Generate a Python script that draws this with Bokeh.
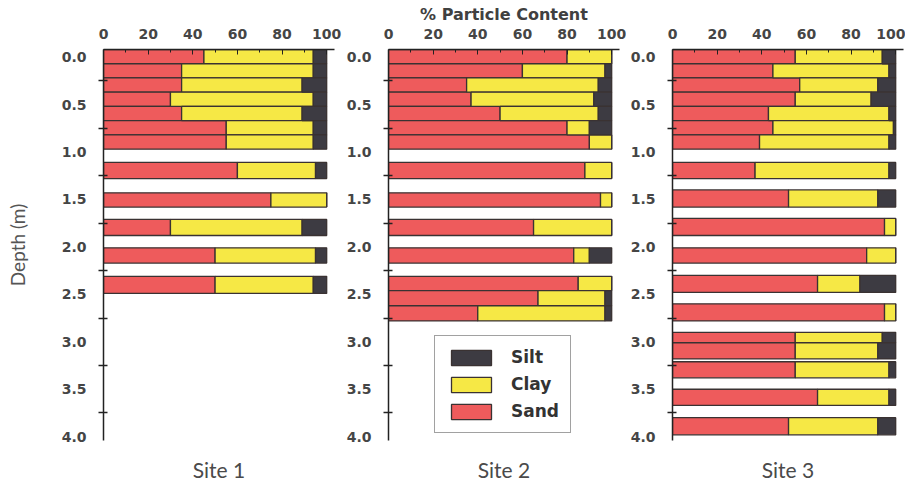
import numpy as np
from bokeh.plotting import figure
from bokeh.models import (Range1d, FixedTicker, LinearAxis, Legend, LegendItem,
                          PrintfTickFormatter)
from bokeh.layouts import row
from bokeh.embed import file_html
from bokeh.resources import INLINE

# ---------------- data ----------------
components = ["Sand", "Clay", "Silt"]
pct_ticks = [0, 20, 40, 60, 80, 100]
pct_minor = [10, 30, 50, 70, 90]
depth_ticks = [0.0, 0.5, 1.0, 1.5, 2.0, 2.5, 3.0, 3.5, 4.0]
depth_minor = [0.25, 0.75, 1.25, 1.75, 2.25, 2.75, 3.25, 3.75]
site_names = ["Site 1", "Site 2", "Site 3"]
x_title = "% Particle Content"
y_title = "Depth (m)"

# sample depth intervals (m)
site1_top = [-0.08, 0.07, 0.22, 0.37, 0.52, 0.67, 0.82, 1.11, 1.43, 1.71, 2.01, 2.31]
site1_bottom = [0.07, 0.22, 0.37, 0.52, 0.67, 0.82, 0.97, 1.28, 1.58, 1.88, 2.17, 2.49]
site1_sand = [45, 35, 35, 30, 35, 55, 55, 60, 75, 30, 50, 50]
site1_clay = [49, 59, 54, 64, 54, 39, 39, 35, 25, 59, 45, 44]
site1_silt = [6, 6, 11, 6, 11, 6, 6, 5, 0, 11, 5, 6]

site2_top = [-0.08, 0.07, 0.22, 0.37, 0.52, 0.67, 0.82, 1.11, 1.43, 1.71, 2.01, 2.31, 2.46, 2.62]
site2_bottom = [0.07, 0.22, 0.37, 0.52, 0.67, 0.82, 0.97, 1.28, 1.58, 1.88, 2.17, 2.46, 2.62, 2.78]
site2_sand = [80, 60, 35, 37, 50, 80, 90, 88, 95, 65, 83, 85, 67, 40]
site2_clay = [20, 37, 59, 55, 44, 10, 10, 12, 5, 35, 7, 15, 30, 57]
site2_silt = [0, 3, 6, 8, 6, 10, 0, 0, 0, 0, 10, 0, 3, 3]

site3_top = [-0.08, 0.07, 0.22, 0.37, 0.52, 0.67, 0.82, 1.11, 1.40, 1.70, 2.01, 2.30,
             2.60, 2.90, 3.01, 3.21, 3.50, 3.80]
site3_bottom = [0.07, 0.22, 0.37, 0.52, 0.67, 0.82, 0.97, 1.28, 1.58, 1.88, 2.17, 2.48,
                2.78, 3.01, 3.18, 3.38, 3.67, 3.98]
site3_sand = [55, 45, 57, 55, 43, 45, 39, 37, 52, 95, 87, 65, 95, 55, 55, 55, 65, 52]
site3_clay = [39, 52, 35, 34, 54, 54, 58, 60, 40, 5, 13, 19, 5, 39, 37, 42, 32, 40]
site3_silt = [6, 3, 8, 11, 3, 1, 3, 3, 8, 0, 0, 16, 0, 6, 8, 3, 3, 8]

# ---------------- style ----------------
SAND = "#ee5b5c"
CLAY = "#f6e845"
SILT = "#3d3b42"
EDGE = "#3a3232"
TICK_FONT = "DejaVu Sans"
TICK_COLOR = "#454545"
SITE_FONT = "Lato"

H = 487


def make_panel(name, tops, bottoms, sand, clay, silt, width, bl, br,
               depth_label=False, top_label=" "):
    p = figure(width=width, height=H, x_range=Range1d(0, 103.5),
               y_range=Range1d(4.04, -0.08), x_axis_location="above",
               output_backend="svg", toolbar_location=None,
               min_border_left=bl, min_border_right=br,
               min_border_top=49, min_border_bottom=47)
    p.outline_line_color = None
    p.grid.visible = False
    p.background_fill_color = "white"

    sand = np.array(sand, float)
    clay = np.array(clay, float)
    silt = np.array(silt, float)
    zeros = np.zeros_like(sand)
    r_sand = p.quad(left=zeros, right=sand, top=tops, bottom=bottoms,
                    fill_color=SAND, line_color=EDGE, line_width=1.3)
    r_clay = p.quad(left=sand, right=sand + clay, top=tops, bottom=bottoms,
                    fill_color=CLAY, line_color=EDGE, line_width=1.3)
    r_silt = p.quad(left=sand + clay, right=sand + clay + silt, top=tops, bottom=bottoms,
                    fill_color=SILT, line_color=EDGE, line_width=1.3)

    # top axis (percent)
    xa = p.xaxis[0]
    xa.ticker = FixedTicker(ticks=pct_ticks, minor_ticks=pct_minor)
    xa.major_tick_in = 5
    xa.major_tick_out = 0
    xa.minor_tick_in = 3
    xa.minor_tick_out = 0
    xa.axis_line_color = "#222222"
    xa.axis_line_width = 1.5
    xa.major_tick_line_color = "#222222"
    xa.minor_tick_line_color = "#222222"
    xa.major_label_standoff = 11
    xa.major_label_text_font = TICK_FONT
    xa.major_label_text_font_size = "14px"
    xa.major_label_text_font_style = "bold"
    xa.major_label_text_color = TICK_COLOR
    xa.axis_label = top_label
    xa.axis_label_standoff = 2
    xa.axis_label_text_font = TICK_FONT
    xa.axis_label_text_font_size = "16px"
    xa.axis_label_text_font_style = "bold"
    xa.axis_label_text_color = "#404040"

    # left axis (depth)
    ya = p.yaxis[0]
    ya.ticker = FixedTicker(ticks=depth_ticks, minor_ticks=depth_minor)
    ya.formatter = PrintfTickFormatter(format="%.1f")
    ya.major_tick_in = 0
    ya.major_tick_out = 0
    ya.minor_tick_in = 4
    ya.minor_tick_out = 5
    ya.minor_tick_line_width = 1.3
    ya.axis_line_color = "#222222"
    ya.axis_line_width = 1.5
    ya.minor_tick_line_color = "#222222"
    ya.major_label_standoff = 12
    ya.major_label_text_font = TICK_FONT
    ya.major_label_text_font_size = "14px"
    ya.major_label_text_font_style = "bold"
    ya.major_label_text_color = TICK_COLOR
    if depth_label:
        ya.axis_label = y_title
        ya.axis_label_text_font = SITE_FONT
        ya.axis_label_text_font_size = "19px"
        ya.axis_label_text_font_style = "normal"
        ya.axis_label_text_color = "#555555"
        ya.axis_label_standoff = 30

    # bottom axis only carrying the site name
    ba = LinearAxis(ticker=FixedTicker(ticks=[]), axis_label=name,
                    axis_line_color=None, major_tick_line_color=None,
                    minor_tick_line_color=None, major_label_text_font_size="0px",
                    major_label_standoff=0, major_tick_in=0, major_tick_out=0)
    ba.axis_label_text_font = SITE_FONT
    ba.axis_label_text_font_size = "21px"
    ba.axis_label_text_font_style = "normal"
    ba.axis_label_text_color = "#4a4a4a"
    ba.axis_label_standoff = 16
    p.add_layout(ba, "below")
    return p, (r_sand, r_clay, r_silt)


p1, _ = make_panel(site_names[0], site1_top, site1_bottom, site1_sand, site1_clay, site1_silt,
                   342, 103, 8, depth_label=True)
p2, rs2 = make_panel(site_names[1], site2_top, site2_bottom, site2_sand, site2_clay, site2_silt,
                     284, 46, 7, top_label=x_title)
p3, _ = make_panel(site_names[2], site3_top, site3_bottom, site3_sand, site3_clay, site3_silt,
                   279, 46, 2)

legend = Legend(items=[LegendItem(label=components[2], renderers=[rs2[2]]),
                       LegendItem(label=components[1], renderers=[rs2[1]]),
                       LegendItem(label=components[0], renderers=[rs2[0]])],
                location=(46, 7))
legend.border_line_color = "#444444"
legend.border_line_width = 1
legend.background_fill_color = "white"
legend.background_fill_alpha = 1
legend.glyph_width = 50
legend.glyph_height = 19
legend.label_height = 19
legend.spacing = 7
legend.padding = 11
legend.margin = 0
legend.label_standoff = 15
legend.label_text_font = TICK_FONT
legend.label_text_font_size = "17px"
legend.label_text_font_style = "bold"
legend.label_text_color = "#333333"
p2.add_layout(legend)

layout = row(p1, p2, p3, spacing=0)

open("out.html", "w").write(file_html(layout, INLINE))
